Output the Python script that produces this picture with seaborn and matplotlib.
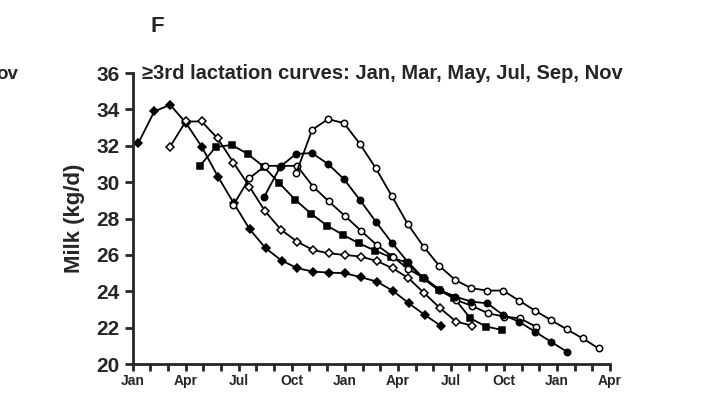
import numpy as np
import matplotlib
matplotlib.use("Agg")
import matplotlib.pyplot as plt
import seaborn as sns
import pandas as pd

# calving-month series: start month (0 = Jan), sampled every ~0.9 month
step = 0.9
jan = [32.15, 33.89, 34.26, 33.25, 31.93, 30.31, 28.84, 27.41, 26.37, 25.69, 25.27, 25.08, 25.03, 24.99, 24.77, 24.53, 24.02, 23.34, 22.70, 22.11]
mar = [31.93, 33.34, 33.34, 32.42, 31.08, 29.76, 28.39, 27.38, 26.73, 26.27, 26.09, 26.00, 25.91, 25.67, 25.27, 24.72, 23.89, 23.06, 22.33, 22.11]
may = [30.90, 31.93, 32.05, 31.56, 30.86, 29.94, 29.03, 28.26, 27.61, 27.10, 26.64, 26.24, 25.87, 25.58, 24.72, 24.07, 23.61, 22.51, 22.06, 21.87]
jul = [28.75, 30.22, 30.90, 30.90, 30.90, 29.76, 28.94, 28.15, 27.34, 26.55, 25.91, 25.21, 24.72, 24.07, 23.52, 23.19, 22.79, 22.61, 22.51, 22.06]
sep = [29.21, 30.86, 31.56, 31.60, 31.00, 30.17, 29.03, 27.83, 26.68, 25.63, 24.72, 24.07, 23.71, 23.43, 23.34, 22.70, 22.33, 21.78, 21.23, 20.68]
nov = [30.50, 32.88, 33.47, 33.25, 32.11, 30.77, 29.25, 27.71, 26.46, 25.39, 24.62, 24.17, 24.04, 24.04, 23.49, 22.94, 22.42, 21.91, 21.41, 20.86]
starts = {"Jan": 0.32, "Mar": 2.1, "May": 3.8, "Jul": 5.7, "Sep": 7.45, "Nov": 9.25}
values = {"Jan": jan, "Mar": mar, "May": may, "Jul": jul, "Sep": sep, "Nov": nov}
month_labels = ["Jan", "Apr", "Jul", "Oct"] * 2 + ["Jan", "Apr"]

rows = []
for k, v in values.items():
    for i, y in enumerate(v):
        rows.append({"series": k, "month": starts[k] + step * i, "milk": y})
df = pd.DataFrame(rows)

sns.set_style("ticks")
plt.rcParams['font.family'] = ['Liberation Sans', 'DejaVu Sans']
plt.rcParams['font.weight'] = 'bold'

fig = plt.figure(figsize=(7.02, 4.04), dpi=100)
ax = fig.add_axes([0.189, 0.099, 0.68, 0.72])

styles = {"Jan": ("D", "black"), "Mar": ("D", "white"), "May": ("s", "black"),
          "Jul": ("o", "white"), "Sep": ("o", "black"), "Nov": ("o", "white")}
for k in values:
    m, fc = styles[k]
    sub = df[df.series == k]
    sns.lineplot(data=sub, x="month", y="milk", ax=ax, color="black", lw=1.3,
                 marker=m, markersize=4.3 if m == "D" else 4.6, markerfacecolor=fc,
                 markeredgecolor="black", markeredgewidth=1.1, clip_on=False)

ax.set_xlim(0, 27)
ax.set_ylim(20, 36)
ax.set_yticks(np.arange(20, 37, 2))
ax.set_xticks(np.arange(0, 28, 3))
ax.set_xticklabels(month_labels, fontsize=10, fontweight="bold")
ax.set_xticks(np.arange(0, 28, 1), minor=True)
ax.tick_params(axis="y", labelsize=15, width=2, length=6)
ax.tick_params(axis="x", which="both", width=2, length=5, pad=2)
for s in ["top", "right"]:
    ax.spines[s].set_visible(False)
for s in ["left", "bottom"]:
    ax.spines[s].set_linewidth(2)
ax.set_xlabel("")
ax.set_ylabel("Milk (kg/d)", fontsize=16, fontweight="bold", labelpad=8)
for lab in ax.get_yticklabels():
    lab.set_fontweight("bold")

ax.text(0.02, 1.0, "≥3rd lactation curves: Jan, Mar, May, Jul, Sep, Nov",
        transform=ax.transAxes, fontsize=14.5, fontweight="bold", va="center",
        clip_on=False)
fig.text(0.215, 0.935, "F", fontsize=16, fontweight="bold", va="center")
fig.text(-0.005, 0.815, "ov", fontsize=13.5, fontweight="bold", va="center")

fig.savefig("out.png", dpi=100)
